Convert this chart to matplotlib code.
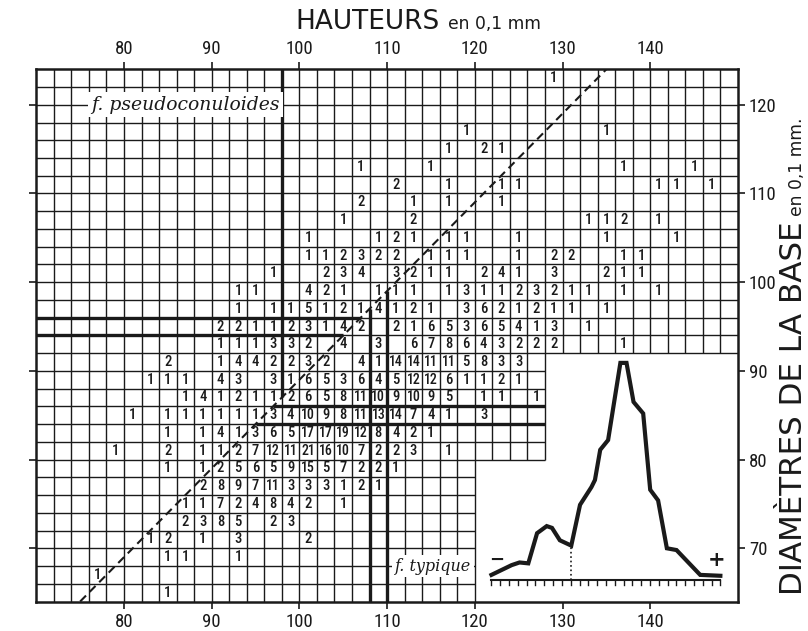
import matplotlib
matplotlib.use("Agg")
import matplotlib.pyplot as plt
from matplotlib import font_manager

# ---------------- data ----------------
x_ticks = [80, 90, 100, 110, 120, 130, 140]
y_ticks = [70, 80, 90, 100, 110, 120]

# counts per row: (height class centre, count); rows keyed by diameter class centre
row_123 = [(129, 1)]
row_117 = [(119, 1), (135, 1)]
row_115 = [(117, 1), (121, 2), (123, 1)]
row_113 = [(107, 1), (115, 1), (137, 1), (145, 1)]
row_111 = [(111, 2), (117, 1), (123, 1), (125, 1), (141, 1), (143, 1), (147, 1)]
row_109 = [(107, 2), (113, 1), (117, 1), (123, 1)]
row_107 = [(105, 1), (113, 2), (133, 1), (135, 1), (137, 2), (141, 1)]
row_105 = [(101, 1), (109, 1), (111, 2), (113, 1), (117, 1), (119, 1), (125, 1), (135, 1), (143, 1)]
row_103 = [(101, 1), (103, 1), (105, 2), (107, 3), (109, 2), (111, 2), (115, 1), (117, 1), (119, 1),
           (125, 1), (129, 2), (131, 2), (137, 1), (139, 1)]
row_101 = [(97, 1), (103, 2), (105, 3), (107, 4), (111, 3), (113, 2), (115, 1), (117, 1), (121, 2),
           (123, 4), (125, 1), (129, 3), (135, 2), (137, 1), (139, 1)]
row_99 = [(93, 1), (95, 1), (101, 4), (103, 2), (105, 1), (109, 1), (111, 1), (113, 1), (117, 1),
          (119, 3), (121, 1), (123, 1), (125, 2), (127, 3), (129, 2), (131, 1), (133, 1), (137, 1), (141, 1)]
row_97 = [(93, 1), (97, 1), (99, 1), (101, 5), (103, 1), (105, 2), (107, 1), (109, 4), (111, 1), (113, 2),
          (115, 1), (119, 3), (121, 6), (123, 2), (125, 1), (127, 2), (129, 1), (131, 1), (135, 1)]
row_95 = [(91, 2), (93, 2), (95, 1), (97, 1), (99, 2), (101, 3), (103, 1), (105, 4), (107, 2), (111, 2),
          (113, 1), (115, 6), (117, 5), (119, 3), (121, 6), (123, 5), (125, 4), (127, 1), (129, 3), (133, 1)]
row_93 = [(91, 1), (93, 1), (95, 1), (97, 3), (99, 3), (101, 2), (105, 4), (109, 3), (113, 6), (115, 7),
          (117, 8), (119, 6), (121, 4), (123, 3), (125, 2), (127, 2), (129, 2), (137, 1)]
row_91 = [(85, 2), (91, 1), (93, 4), (95, 4), (97, 2), (99, 2), (101, 3), (103, 2), (107, 4), (109, 1),
          (111, 14), (113, 14), (115, 11), (117, 11), (119, 5), (121, 8), (123, 3), (125, 3)]
row_89 = [(83, 1), (85, 1), (87, 1), (91, 4), (93, 3), (97, 3), (99, 1), (101, 6), (103, 5), (105, 3),
          (107, 6), (109, 4), (111, 5), (113, 12), (115, 12), (117, 6), (119, 1), (121, 1), (123, 2), (125, 1)]
row_87 = [(87, 1), (89, 4), (91, 1), (93, 2), (95, 1), (97, 1), (99, 2), (101, 6), (103, 5), (105, 8),
          (107, 11), (109, 10), (111, 9), (113, 10), (115, 9), (117, 5), (121, 1), (123, 1), (127, 1)]
row_85 = [(81, 1), (85, 1), (87, 1), (89, 1), (91, 1), (93, 1), (95, 1), (97, 3), (99, 4), (101, 10),
          (103, 9), (105, 8), (107, 11), (109, 13), (111, 14), (113, 7), (115, 4), (117, 1), (121, 3)]
row_83 = [(85, 1), (89, 1), (91, 4), (93, 1), (95, 3), (97, 6), (99, 5), (101, 17), (103, 17), (105, 19),
          (107, 12), (109, 8), (111, 4), (113, 2), (115, 1)]
row_81 = [(79, 1), (85, 2), (89, 1), (91, 1), (93, 2), (95, 7), (97, 12), (99, 11), (101, 21), (103, 16),
          (105, 10), (107, 7), (109, 2), (111, 2), (113, 3), (117, 1)]
row_79 = [(85, 1), (89, 1), (91, 2), (93, 5), (95, 6), (97, 5), (99, 9), (101, 15), (103, 5), (105, 7),
          (107, 2), (109, 2), (111, 1)]
row_77 = [(89, 2), (91, 8), (93, 9), (95, 7), (97, 11), (99, 3), (101, 3), (103, 3), (105, 1), (107, 2), (109, 1)]
row_75 = [(87, 1), (89, 1), (91, 7), (93, 2), (95, 4), (97, 8), (99, 4), (101, 2), (105, 1)]
row_73 = [(87, 2), (89, 3), (91, 8), (93, 5), (97, 2), (99, 3)]
row_71 = [(83, 1), (85, 2), (89, 1), (93, 3), (101, 2)]
row_69 = [(85, 1), (87, 1), (93, 1)]
row_67 = [(77, 1)]
row_65 = [(85, 1)]

rows = {123: row_123, 117: row_117, 115: row_115, 113: row_113, 111: row_111, 109: row_109,
        107: row_107, 105: row_105, 103: row_103, 101: row_101, 99: row_99, 97: row_97,
        95: row_95, 93: row_93, 91: row_91, 89: row_89, 87: row_87, 85: row_85, 83: row_83,
        81: row_81, 79: row_79, 77: row_77, 75: row_75, 73: row_73, 71: row_71, 69: row_69,
        67: row_67, 65: row_65}

# frequency polygon of heights (inset), drawn in the table's height scale
poly_h = [121.9, 124.2, 125.1, 126.1, 127.1, 128.2, 128.8, 129.7, 131.0, 132.0, 133.3, 133.7,
          134.3, 135.2, 136.6, 137.3, 138.1, 139.2, 140.0, 140.9, 141.9, 143.0, 145.7, 148.0]
poly_v = [67.0, 68.1, 68.4, 68.3, 71.7, 72.5, 72.3, 70.9, 70.3, 74.9, 76.9, 77.7,
          81.1, 82.2, 90.9, 90.9, 86.5, 85.2, 76.6, 75.4, 70.0, 69.8, 67.0, 66.9]

# ---------------- fonts ----------------
NARROW = "DejaVu Sans"
NARROW_STRETCH = "normal"
_entries = font_manager.fontManager.ttflist
_names = {f.name for f in _entries}
for cand in ("Liberation Sans Narrow", "Roboto Condensed", "Open Sans Condensed",
             "Noto Sans Condensed", "DejaVu Sans Condensed"):
    if cand in _names:
        NARROW = cand
        break
else:
    for f in _entries:
        if f.name in ("DejaVu Sans", "Roboto", "Open Sans", "Noto Sans") and \
                str(f.stretch) in ("condensed", "semi-condensed", "extra-condensed", "75", "87.5"):
            NARROW = f.name
            NARROW_STRETCH = f.stretch
            break
CONDENSED = NARROW != "DejaVu Sans" or NARROW_STRETCH != "normal"
SERIF = "DejaVu Serif"
TITLE = "DejaVu Sans"
nf = dict(family=NARROW, stretch=NARROW_STRETCH)

INK = "#1a1a1a"
fig = plt.figure(figsize=(8.08, 6.31), dpi=100)
W, H = 808, 631
L, R, T, B = 36.3, 737.9, 69.3, 601.5
ax = fig.add_axes([L / W, 1 - B / H, (R - L) / W, (B - T) / H])
X0, X1, Y0, Y1 = 70, 150, 64, 124
ax.set_xlim(X0, X1)
ax.set_ylim(Y0, Y1)


def ybot(x):
    return Y0 if x <= 120 else (80 if x <= 128 else 92)


def xright(y):
    return 120 if y < 80 else (128 if y < 92 else X1)


for x in range(X0 + 2, X1, 2):
    ax.plot([x, x], [ybot(x), Y1], color=INK, lw=1.0, zorder=1, solid_capstyle="butt")
for y in range(Y0 + 2, Y1, 2):
    ax.plot([X0, xright(y)], [y, y], color=INK, lw=1.0, zorder=1, solid_capstyle="butt")


# diagonal separating the two forms: y = x - 11
def diag_x(y):
    return y + 11


def diag_y(x):
    return x - 11


ax.plot([75, 135], [diag_y(75), diag_y(135)], color=INK, lw=1.5, ls=(0, (4, 2.5)), zorder=3)

thick = dict(color=INK, lw=2.4, zorder=2, solid_capstyle="butt")
for y in (96, 94):
    ax.plot([X0, diag_x(y)], [y, y], **thick)
for y in (86, 84):
    ax.plot([diag_x(y), 128], [y, y], **thick)
for x in (98,):
    ax.plot([x, x], [diag_y(x), Y1], **thick)
for x in (108, 110):
    ax.plot([x, x], [Y0, diag_y(x)], **thick)

# counts
for yc, items in rows.items():
    for xc, n in items:
        ax.text(xc, yc, str(n), ha="center", va="center",
                fontsize=(10.5 if n < 10 else 10) if CONDENSED else (9.5 if n < 10 else 8.8),
                fontweight="medium", color=INK, zorder=4, **nf)

# labels of the two forms
ax.text(87, 120, "f. pseudoconuloides", ha="center", va="center", fontsize=13.5,
        family=SERIF, style="italic", color=INK, zorder=5,
        bbox=dict(facecolor="white", edgecolor="none", pad=2.5))
ax.text(115.2, 68, "f. typique", ha="center", va="center", fontsize=11.5,
        family=SERIF, style="italic", color=INK, zorder=5,
        bbox=dict(facecolor="white", edgecolor="none", pad=2.0))

# inset frequency polygon
ax.plot(poly_h, poly_v, color=INK, lw=3.0, zorder=3, solid_joinstyle="miter")
base = 66.4
ax.plot([poly_h[0], poly_h[-1]], [base, base], color=INK, lw=1.5, zorder=3)
for k in range(0, 27):
    xt = poly_h[0] + k * (poly_h[-1] - poly_h[0]) / 26
    ax.plot([xt, xt], [base, base - 0.55], color=INK, lw=1.0, zorder=3)
ax.plot([131.0, 131.0], [base, 70.3], color=INK, lw=1.2, ls=":", zorder=3)
ax.text(122.5, 68.7, "\u2212", ha="center", va="center", fontsize=13, fontweight="bold", color=INK)
ax.text(147.6, 68.7, "+", ha="center", va="center", fontsize=15, fontweight="bold", color=INK)

# axes & ticks
for s in ax.spines.values():
    s.set_linewidth(1.8)
    s.set_color(INK)
tick_fs = 13.5 if CONDENSED else 12
ax.set_xticks(x_ticks)
ax.set_yticks(y_ticks)
ax.tick_params(axis="x", direction="out", length=5, width=1.2, top=True, labeltop=True,
               bottom=True, labelbottom=True, labelsize=tick_fs, pad=3, colors=INK)
ax.tick_params(axis="y", direction="out", length=5, width=1.2, left=True, labelleft=False,
               right=True, labelright=True, labelsize=tick_fs, pad=3, colors=INK)
for lab in ax.get_xticklabels() + ax.get_yticklabels():
    lab.set_family(NARROW)
    lab.set_stretch(NARROW_STRETCH)

# titles
fig.text(440 / W, 1 - 29 / H, "HAUTEURS", ha="right", va="baseline", fontsize=19,
         family=TITLE, color=INK)
fig.text(448 / W, 1 - 29 / H, "en 0,1 mm", ha="left", va="baseline", fontsize=12.3,
         family=TITLE, color=INK)
fig.text(802 / W, 1 - 595 / H, "DIAMÈTRES DE LA BASE", rotation=90, rotation_mode="anchor",
         ha="left", va="baseline", fontsize=22.3, family=TITLE, color=INK)
fig.text(802 / W, 1 - 216 / H, "en 0,1 mm.", rotation=90, rotation_mode="anchor",
         ha="left", va="baseline", fontsize=12.3, family=TITLE, color=INK)

fig.savefig("out.png", dpi=100, facecolor="white")
